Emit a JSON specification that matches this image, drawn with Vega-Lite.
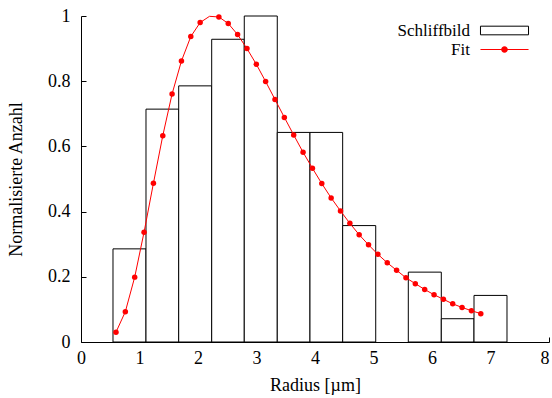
{
  "$schema": "https://vega.github.io/schema/vega-lite/v6.json",
  "width": 468,
  "height": 326,
  "autosize": {"type": "none"},
  "padding": {"left": 81, "top": 16, "right": 3, "bottom": 56},
  "background": "white",
  "config": {
    "view": {"stroke": null},
    "font": "Liberation Serif",
    "axis": {
      "domainColor": "black",
      "domainWidth": 1,
      "tickColor": "black",
      "tickWidth": 1,
      "tickSize": -5,
      "labelFlush": false,
      "labelColor": "black",
      "titleColor": "black",
      "labelFont": "Liberation Serif",
      "titleFont": "Liberation Serif",
      "labelFontSize": 18,
      "titleFontSize": 18,
      "titleFontWeight": "normal",
      "grid": false
    },
    "legend": {
      "orient": "none",
      "title": null,
      "padding": 0,
      "symbolSize": 324,
      "symbolStrokeWidth": 1,
      "labelAlign": "right",
      "labelOffset": -44,
      "labelFont": "Liberation Serif",
      "labelFontSize": 17,
      "labelColor": "black"
    }
  },
  "datasets": {
    "bins": [
      {"von": 0.547, "bis": 1.111, "anzahl": 0.2857},
      {"von": 1.111, "bis": 1.670, "anzahl": 0.7143},
      {"von": 1.670, "bis": 2.234, "anzahl": 0.7857},
      {"von": 2.234, "bis": 2.791, "anzahl": 0.9286},
      {"von": 2.791, "bis": 3.355, "anzahl": 1.0},
      {"von": 3.355, "bis": 3.914, "anzahl": 0.6429},
      {"von": 3.914, "bis": 4.473, "anzahl": 0.6429},
      {"von": 4.473, "bis": 5.038, "anzahl": 0.3571},
      {"von": 5.595, "bis": 6.159, "anzahl": 0.2143},
      {"von": 6.159, "bis": 6.718, "anzahl": 0.0714},
      {"von": 6.718, "bis": 7.282, "anzahl": 0.1429}
    ],
    "fit": [
      {"r": 0.598, "wert": 0.030},
      {"r": 0.758, "wert": 0.093},
      {"r": 0.918, "wert": 0.199},
      {"r": 1.078, "wert": 0.337},
      {"r": 1.238, "wert": 0.487},
      {"r": 1.398, "wert": 0.633},
      {"r": 1.557, "wert": 0.761},
      {"r": 1.717, "wert": 0.862},
      {"r": 1.877, "wert": 0.937},
      {"r": 2.037, "wert": 0.980},
      {"r": 2.197, "wert": 0.999},
      {"r": 2.357, "wert": 0.997},
      {"r": 2.517, "wert": 0.977},
      {"r": 2.677, "wert": 0.943},
      {"r": 2.837, "wert": 0.900},
      {"r": 2.997, "wert": 0.852},
      {"r": 3.156, "wert": 0.799},
      {"r": 3.316, "wert": 0.744},
      {"r": 3.476, "wert": 0.689},
      {"r": 3.636, "wert": 0.635},
      {"r": 3.796, "wert": 0.582},
      {"r": 3.956, "wert": 0.533},
      {"r": 4.116, "wert": 0.486},
      {"r": 4.276, "wert": 0.442},
      {"r": 4.436, "wert": 0.402},
      {"r": 4.596, "wert": 0.364},
      {"r": 4.755, "wert": 0.329},
      {"r": 4.915, "wert": 0.298},
      {"r": 5.075, "wert": 0.269},
      {"r": 5.235, "wert": 0.243},
      {"r": 5.395, "wert": 0.220},
      {"r": 5.555, "wert": 0.197},
      {"r": 5.715, "wert": 0.179},
      {"r": 5.875, "wert": 0.161},
      {"r": 6.035, "wert": 0.145},
      {"r": 6.195, "wert": 0.131},
      {"r": 6.354, "wert": 0.117},
      {"r": 6.514, "wert": 0.106},
      {"r": 6.674, "wert": 0.096},
      {"r": 6.834, "wert": 0.087}
    ]
  },
  "resolve": {"scale": {"strokeDash": "independent"}, "legend": {"strokeDash": "independent"}},
  "layer": [
    {
      "data": {"name": "bins"},
      "mark": {"type": "rect", "fill": "white", "strokeWidth": 1},
      "encoding": {
        "x": {
          "field": "von",
          "type": "quantitative",
          "scale": {"domain": [0, 8], "nice": false, "zero": false},
          "axis": {
            "values": [0, 1, 2, 3, 4, 5, 6, 7, 8],
            "format": "d",
            "labelPadding": 12,
            "titlePadding": 9,
            "labelAlign": {"condition": {"test": "datum.value == 8", "value": "right"}, "value": "center"}
          },
          "title": "Radius [µm]"
        },
        "x2": {"field": "bis"},
        "y": {
          "field": "anzahl",
          "type": "quantitative",
          "scale": {"domain": [0, 1], "nice": false},
          "axis": {"values": [0, 0.2, 0.4, 0.6, 0.8, 1], "format": "~g", "labelPadding": 16, "titlePadding": 22},
          "title": "Normalisierte Anzahl"
        },
        "y2": {"datum": 0},
        "stroke": {
          "datum": "Schliffbild",
          "type": "nominal",
          "scale": {"domain": ["Schliffbild"], "range": ["black"]},
          "legend": {
            "legendX": 414,
            "legendY": 5,
            "symbolType": "M-2.67,-0.48H2.67V0.48H-2.67Z",
            "symbolFillColor": "white",
            "symbolStrokeColor": "black"
          }
        }
      }
    },
    {
      "data": {"name": "fit"},
      "mark": {"type": "line", "color": "red", "strokeWidth": 1},
      "encoding": {
        "x": {"field": "r", "type": "quantitative"},
        "y": {"field": "wert", "type": "quantitative"}
      }
    },
    {
      "data": {"name": "fit"},
      "transform": [{"filter": "datum.r != 2.197"}],
      "mark": {"type": "point", "filled": true, "color": "red", "size": 30, "opacity": 1},
      "encoding": {
        "x": {"field": "r", "type": "quantitative"},
        "y": {"field": "wert", "type": "quantitative"},
        "strokeDash": {
          "datum": "Fit",
          "type": "nominal",
          "scale": {"domain": ["Fit"], "range": [[1, 0]]},
          "legend": {
            "legendX": 414,
            "legendY": 24,
            "symbolType": "M-2.67,-0.06H-0.3V0.06H-2.67Z M0.3,-0.06H2.67V0.06H0.3Z M0.37,0A0.37,0.37 0 1,1 -0.37,0A0.37,0.37 0 1,1 0.37,0Z",
            "symbolFillColor": "red",
            "symbolStrokeColor": "red"
          }
        }
      }
    }
  ]
}
